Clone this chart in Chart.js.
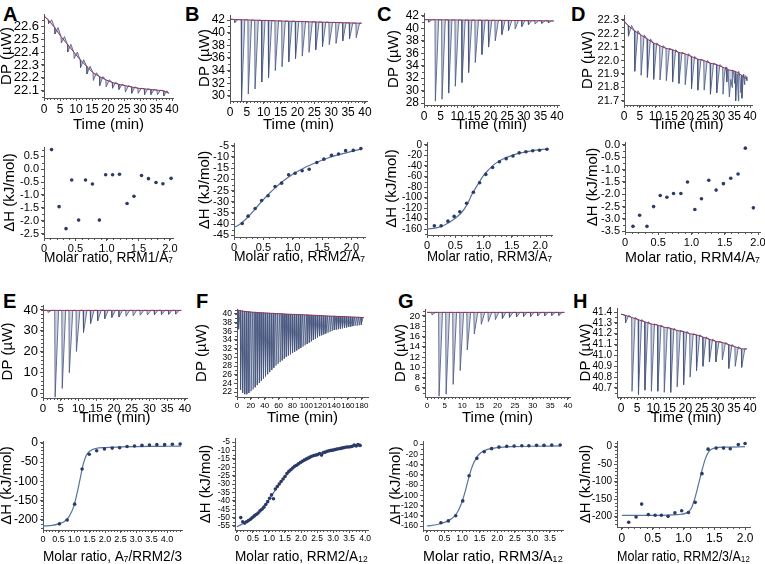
<!DOCTYPE html>
<html>
<head>
<meta charset="utf-8">
<script src="https://cdn.jsdelivr.net/npm/chart.js@4.4.0/dist/chart.umd.min.js"></script>
<style>
  body { margin: 0; width: 765px; height: 564px; position: relative; overflow: hidden; background: #fff;
         font-family: 'Liberation Sans', Arial, sans-serif; }
  canvas { position: absolute; }
  .tag { position: absolute; font-weight: bold; font-size: 20px; line-height: 20px; color: #000; }
</style>
</head>
<body>
<div class="tag" style="left:3px;top:4px">A</div>
<div class="tag" style="left:185px;top:4px">B</div>
<div class="tag" style="left:377px;top:4px">C</div>
<div class="tag" style="left:571px;top:4px">D</div>
<div class="tag" style="left:3px;top:291px">E</div>
<div class="tag" style="left:196px;top:291px">F</div>
<div class="tag" style="left:398px;top:291px">G</div>
<div class="tag" style="left:573px;top:291px">H</div>
<script>
// INJECTION TIMES (min) ---------------------------------------------------------
const injTime = [1.3, 3.3, 5.3, 7.3, 9.3, 11.3, 13.3, 15.3, 17.3, 19.3, 21.3, 23.3, 25.3, 27.3, 29.3, 31.3, 33.3, 35.3, 37.3];
const injTimeF = [2, 5, 8, 11, 14, 17, 20, 23, 26, 29, 32, 35, 38, 41, 44, 47, 50, 53, 56, 59,
                  62, 65, 68, 71, 74, 77, 80, 83, 86, 89, 92, 95, 98, 101, 104, 107, 110, 113, 116, 119,
                  122, 125, 128, 131, 134, 137, 140, 143, 146, 149, 152, 155, 158, 161, 164, 167, 170, 173, 176, 179];
const runEnd = 39;
const runEndF = 183;

// A  RRM1/A7
const aBase = [22.65, 22.59, 22.52, 22.46, 22.40, 22.34, 22.29, 22.24, 22.21, 22.185, 22.165, 22.15, 22.14, 22.13, 22.12, 22.115, 22.11, 22.105, 22.10];
const aPeak = [22.62, 22.54, 22.47, 22.40, 22.35, 22.28, 22.23, 22.18, 22.14, 22.13, 22.12, 22.11, 22.09, 22.08, 22.08, 22.07, 22.07, 22.07, 22.06];
const aEnds = [22.68, 22.08];
const aRatio = [0.12, 0.24, 0.35, 0.44, 0.55, 0.66, 0.77, 0.88, 0.98, 1.09, 1.2, 1.32, 1.43, 1.55, 1.66, 1.78, 1.89, 2.02];
const aHeat = [0.75, -1.45, -2.3, -0.42, -1.97, -0.42, -0.58, -1.97, -0.22, -0.22, -0.2, -1.33, -1.05, -0.25, -0.37, -0.52, -0.57, -0.36];

// B  RRM2/A7
const bBase = [42.08, 42.05, 42.02, 41.98, 41.95, 41.92, 41.88, 41.85, 41.82, 41.79, 41.76, 41.73, 41.70, 41.67, 41.64, 41.61, 41.58, 41.55, 41.52];
const bPeak = [41.6, 29.2, 30.3, 31.1, 32.2, 32.9, 34.0, 34.6, 35.4, 35.9, 36.3, 36.9, 37.3, 37.8, 38.1, 38.3, 38.7, 39.0, 39.2];
const bEnds = [42.15, 41.5];
const bRatio = [0.14, 0.24, 0.36, 0.47, 0.58, 0.70, 0.81, 0.93, 1.04, 1.16, 1.28, 1.41, 1.53, 1.66, 1.78, 1.90, 2.03, 2.16];
const bHeat = [-39.7, -36.4, -33.0, -29.4, -27.3, -23.2, -21.7, -18.0, -17.3, -16.2, -15.5, -12.5, -11.0, -9.3, -8.7, -7.2, -7.1, -6.3];
const bFitX = [0, 0.1, 0.2, 0.3, 0.4, 0.5, 0.6, 0.7, 0.8, 0.9, 1.0, 1.2, 1.4, 1.6, 1.8, 2.0, 2.16];
const bFitY = [-41.5, -40.0, -37.8, -35.0, -32.0, -29.0, -26.3, -23.8, -21.5, -19.5, -17.7, -14.8, -12.5, -10.5, -8.9, -7.5, -6.5];

// C  RRM3/A7
const cBase = [41.40, 41.39, 41.38, 41.37, 41.36, 41.35, 41.34, 41.33, 41.32, 41.31, 41.30, 41.29, 41.28, 41.27, 41.26, 41.25, 41.24, 41.23, 41.22];
const cPeak = [41.0, 28.3, 28.6, 29.6, 30.7, 31.3, 32.9, 34.5, 35.8, 37.0, 38.0, 39.0, 39.6, 39.9, 40.3, 40.6, 40.7, 40.8, 40.9];
const cEnds = [41.42, 41.2];
const cRatio = [0.13, 0.25, 0.37, 0.48, 0.58, 0.70, 0.82, 0.93, 1.04, 1.16, 1.28, 1.40, 1.52, 1.63, 1.75, 1.87, 1.99, 2.12];
const cHeat = [-154, -154, -145, -136, -127, -111, -90, -72, -56, -43, -32, -26, -21, -15, -13, -11, -10, -8];
const cFitX = [0, 0.2, 0.4, 0.6, 0.7, 0.8, 0.9, 1.0, 1.1, 1.2, 1.3, 1.4, 1.6, 1.8, 2.0, 2.15];
const cFitY = [-160, -157, -147, -130, -115, -93, -75, -58, -46, -36, -29, -24, -16.5, -12, -9, -7.5];

// D  RRM4/A7
const dBase = [22.26, 22.22, 22.19, 22.16, 22.13, 22.11, 22.09, 22.08, 22.06, 22.05, 22.03, 22.01, 22.00, 21.98, 21.97, 21.95, 21.93, 21.92, 21.89];
const dPeak = [22.18, 21.92, 21.89, 21.875, 21.86, 21.855, 21.85, 21.84, 21.83, 21.82, 21.79, 21.78, 21.78, 21.75, 21.76, 21.75, 21.73, 21.70, 21.72];
const dEnds = [22.29, 21.86];
const dNoiseT = [31.8, 32.2, 32.6, 33.0, 33.9, 34.3, 34.7, 35.1, 35.9, 36.3, 36.7, 37.1, 37.9, 38.3, 38.7, 39.0];
const dNoiseV = [21.88, 21.95, 21.84, 21.93, 21.86, 21.80, 21.92, 21.83, 21.90, 21.70, 21.88, 21.76, 21.90, 21.82, 21.88, 21.85];
const dRatio = [0.12, 0.22, 0.33, 0.43, 0.53, 0.63, 0.73, 0.84, 0.94, 1.05, 1.15, 1.26, 1.37, 1.48, 1.59, 1.70, 1.81, 1.93];
const dHeat = [-3.3, -2.85, -3.3, -2.5, -2.05, -2.12, -1.97, -1.97, -1.5, -2.62, -2.18, -1.43, -1.83, -1.57, -1.35, -1.18, -0.13, -2.55];

// E  A7/RRM2/3
const eBase = 39.8;
const ePeak = [38.8, -2.0, 2.2, 9.8, 20.0, 29.2, 33.5, 34.8, 35.8, 36.4, 36.6, 37.0, 37.2, 37.5, 37.6, 37.7, 37.8, 37.9, 38.0];
const eEnds = [39.8, 39.8];
const eRatio = [0.53, 0.78, 1.02, 1.26, 1.49, 1.73, 1.98, 2.23, 2.47, 2.71, 2.95, 3.19, 3.43, 3.67, 3.92, 4.17, 4.42];
const eHeat = [-210, -200, -159, -68, -30, -21, -16, -14, -13, -10, -8.5, -7, -6, -5, -5, -4, -3.4];
const eFitX = [0, 0.3, 0.5, 0.7, 0.85, 1.0, 1.1, 1.2, 1.3, 1.4, 1.5, 1.7, 2.0, 2.5, 3.0, 3.5, 4.0, 4.45];
const eFitY = [-216, -214, -210, -203, -190, -163, -130, -92, -55, -32, -22, -15, -12.5, -11, -10, -9.5, -9.2, -9];

// F  RRM2/A12
const fBase = [40.85, 40.75, 40.65, 40.6, 40.55, 40.5, 40.45, 40.4, 40.4, 40.35, 40.3, 40.3, 40.25, 40.25, 40.2,
               40.2, 40.15, 40.15, 40.1, 40.1, 40.05, 40.05, 40.0, 40.0, 39.95, 39.95, 39.9, 39.9, 39.9, 39.85,
               39.85, 39.8, 39.8, 39.8, 39.75, 39.75, 39.7, 39.7, 39.65, 39.65, 39.6, 39.6, 39.55, 39.55, 39.5,
               39.5, 39.5, 39.45, 39.45, 39.4, 39.4, 39.4, 39.35, 39.35, 39.3, 39.3, 39.3, 39.25, 39.25, 39.2];
const fPeak = [36.5, 22.5, 21.8, 21.5, 21.5, 21.8, 22.2, 22.6, 23.1, 23.6, 24.1, 24.6, 25.1, 25.6, 26.1,
               26.6, 27.1, 27.6, 28.1, 28.5, 28.9, 29.3, 29.7, 30.1, 30.4, 30.7, 31.0, 31.3, 31.6, 31.9,
               32.2, 32.5, 32.8, 33.1, 33.4, 33.7, 34.0, 34.3, 34.6, 34.9, 35.1, 35.3, 35.5, 35.7, 35.9,
               36.1, 36.3, 36.4, 36.5, 36.6, 36.7, 36.8, 36.9, 37.0, 37.1, 37.2, 37.3, 37.3, 37.4, 37.5];
const fEnds = [41.0, 39.2];
const fRatio = [0.12, 0.18, 0.24, 0.30, 0.36, 0.42, 0.48, 0.54, 0.60, 0.66, 0.72, 0.78, 0.84, 0.90, 0.96, 1.02,
                1.08, 1.14, 1.20, 1.26, 1.32, 1.38, 1.44, 1.50, 1.56, 1.62, 1.68, 1.74, 1.80, 1.86, 1.92, 1.98,
                2.04, 2.10, 2.16, 2.22, 2.28, 2.34, 2.40, 2.46, 2.52, 2.58, 2.64, 2.70, 2.76, 2.82, 2.88, 2.94,
                3.00, 3.06, 3.12, 3.18, 3.24, 3.30, 3.36, 3.42, 3.48, 3.54, 3.60, 3.66, 3.72, 3.78, 3.84];
const fHeat = [-50, -52.5, -53.3, -52.5, -51.8, -51, -50, -49, -48.2, -47.3, -46, -45, -43.8, -42.2, -40.5, -38.5,
               -36.5, -38.8, -33, -31.5, -30, -28.5, -27, -25.5, -23.8, -22.5, -21.5, -20.5, -19.5, -18.8, -18, -17.2,
               -16.5, -15.8, -15.2, -14.6, -14, -13.5, -13, -12.8, -12.5, -11.8, -12.8, -11.3, -11, -10.5, -10.2, -10,
               -9.8, -9.5, -9.2, -9, -8.8, -8.5, -8.3, -8, -8, -7.8, -7.5, -6.8, -7.3, -6.5, -7];
const fFitX = [0, 0.2, 0.4, 0.6, 0.8, 1.0, 1.2, 1.4, 1.6, 1.8, 2.0, 2.2, 2.4, 2.6, 2.8, 3.0, 3.3, 3.6, 3.9];
const fFitY = [-55.5, -53.5, -51.5, -48.8, -44.8, -39.5, -33.5, -28, -23.3, -19.8, -17, -14.8, -13, -11.7, -10.6, -9.7, -8.7, -7.8, -7.1];

// G  RRM3/A12
const gBase = 20.7;
const gPeak = [20.2, 4.4, 4.8, 6.7, 9.4, 13.4, 16.5, 18.4, 18.9, 19.3, 19.5, 19.7, 19.8, 19.9, 19.9, 20.0, 20.0, 20.1, 20.1];
const gEnds = [20.7, 20.7];
const gRatio = [0.4, 0.61, 0.82, 1.02, 1.2, 1.42, 1.63, 1.84, 2.05, 2.27, 2.48, 2.7, 2.9, 3.12, 3.33, 3.55, 3.79];
const gHeat = [-153.6, -150, -140, -111, -62, -28, -15, -9, -6, -4.5, -4, -3.3, -3.3, -2.6, -2.6, -2, -2];
const gFitX = [0, 0.3, 0.5, 0.7, 0.85, 1.0, 1.1, 1.2, 1.3, 1.4, 1.5, 1.7, 2.0, 2.5, 3.0, 3.8];
const gFitY = [-160, -157, -153, -146, -135, -113, -90, -63, -42, -28, -19, -11, -7, -5, -4.3, -3.8];

// H  RRM2/3/A12
const hBase = [41.37, 41.35, 41.33, 41.31, 41.29, 41.28, 41.26, 41.25, 41.23, 41.22, 41.20, 41.19, 41.17, 41.15, 41.13, 41.12, 41.10, 41.08, 41.06];
const hPeak = [41.30, 40.67, 40.64, 40.68, 40.67, 40.67, 40.66, 40.66, 40.71, 40.73, 40.80, 40.86, 40.90, 40.94, 40.94, 40.96, 40.88, 40.90, 40.89];
const hEnds = [41.38, 41.06];
const hRatio = [0.11, 0.23, 0.32, 0.43, 0.54, 0.64, 0.75, 0.86, 0.97, 1.08, 1.19, 1.3, 1.4, 1.53, 1.65, 1.76, 1.89, 2.0];
const hHeat = [-216, -201, -164, -194, -196, -196, -199, -189, -183, -188, -159, -77, -7, -4, -4, -6, 6, 9];
const hFitX = [0, 0.5, 0.9, 1.05, 1.12, 1.18, 1.24, 1.3, 1.36, 1.42, 1.5, 1.7, 2.0];
const hFitY = [-196, -196, -194, -189, -178, -150, -110, -68, -32, -12, -4, -1, 0];

// STYLE ----------------------------------------------------------------------------
Chart.defaults.font.family = "'Liberation Sans', Arial, 'DejaVu Sans', sans-serif";
Chart.defaults.color = '#000';
const AXIS = '#555';
const BASE_COLOR = '#8e3560';
const TRACE_COLOR = '#46557e';
const TRACE_FILL = 'rgba(125,140,180,0.38)';
const DOT_COLOR = '#2b3a66';
const FIT_COLOR = '#56749e';

const f1 = v => v.toFixed(1);
const f1z = v => (Math.abs(v) < 1e-9 ? '0' : v.toFixed(1));

function xy(xs, ys) {
    return xs.map((x, i) => ({ x: x, y: ys[i] }));
}

// thermogram: baseline + spikes from injection lists
function thermo(times, base, peak, ends, endTime, w, noise) {
    const baseAt = i => (Array.isArray(base) ? base[i] : base);
    const line = [{ x: 0, y: ends[0] }];
    const tr = [{ x: 0, y: ends[0] }];
    times.forEach((t, i) => {
        line.push({ x: t, y: baseAt(i) });
        tr.push({ x: t, y: baseAt(i) }, { x: t + w[0], y: peak[i] }, { x: t + w[1], y: baseAt(i) });
    });
    line.push({ x: endTime, y: ends[1] });
    tr.push({ x: endTime, y: ends[1] });
    if (noise) {
        noise.forEach(p => tr.push(p));
        tr.sort((a, b) => a.x - b.x);
    }
    return [
        { data: line, showLine: true, borderColor: BASE_COLOR, borderWidth: 1, pointRadius: 0, fill: false, tension: 0 },
        { data: tr, showLine: true, borderColor: TRACE_COLOR, borderWidth: 0.8, pointRadius: 0, fill: '-1', backgroundColor: TRACE_FILL, tension: 0 }
    ];
}

function isotherm(xs, ys, fx, fy) {
    const sets = [{ data: xy(xs, ys), pointRadius: 1.8, pointBackgroundColor: DOT_COLOR, pointBorderWidth: 0, showLine: false }];
    if (fx) {
        sets.push({ data: xy(fx, fy), showLine: true, borderColor: FIT_COLOR, borderWidth: 1.2, pointRadius: 0, cubicInterpolationMode: 'monotone' });
    }
    return sets;
}

const minorTicks = {
    id: 'minorTicks',
    afterDraw(chart, args, opts) {
        const ctx = chart.ctx;
        ctx.save();
        ctx.strokeStyle = AXIS;
        ctx.lineWidth = 1;
        ['x', 'y'].forEach(k => {
            const step = opts[k];
            if (!step) return;
            const s = chart.scales[k];
            for (let i = Math.ceil(s.min / step - 1e-6); i * step <= s.max + 1e-9; i++) {
                const p = Math.round(s.getPixelForValue(i * step)) + 0.5;
                ctx.beginPath();
                if (k === 'x') { ctx.moveTo(p, s.top); ctx.lineTo(p, s.top + 2); }
                else { ctx.moveTo(s.right, p); ctx.lineTo(s.right - 2, p); }
                ctx.stroke();
            }
        });
        ctx.restore();
    }
};

// box = [left, top, right, bottom] of the plot area in page pixels
function panel(p) {
    const lh = 18;
    const left = Math.round(p.yTitleX - lh / 2);
    const top = p.box[1] - 12;
    const right = p.box[2] + 16;
    const bottom = Math.round(p.xTitleY + lh / 2);
    const cv = document.createElement('canvas');
    cv.width = right - left;
    cv.height = bottom - top;
    cv.style.left = left + 'px';
    cv.style.top = top + 'px';
    document.body.appendChild(cv);

    const xt = { stepSize: p.step[0], includeBounds: false, autoSkip: false, maxRotation: 0, minRotation: 0, padding: 1, font: { size: p.font[0] } };
    if (p.fx) xt.callback = p.fx;
    const yt = { stepSize: p.step[1], includeBounds: false, autoSkip: false, padding: 2, font: { size: p.font[1] } };
    if (p.fy) yt.callback = p.fy;

    new Chart(cv, {
        type: 'scatter',
        data: { datasets: p.datasets },
        options: {
            responsive: false,
            animation: false,
            devicePixelRatio: 1,
            events: [],
            layout: { padding: { top: 12, right: 16, left: 0, bottom: 0 } },
            plugins: {
                legend: { display: false },
                tooltip: { enabled: false },
                minorTicks: { x: p.minor[0], y: p.minor[1] }
            },
            scales: {
                x: {
                    type: 'linear', position: 'bottom', min: p.x[0], max: p.x[1],
                    ticks: xt,
                    grid: { drawOnChartArea: false, tickLength: 3, color: AXIS },
                    border: { color: AXIS },
                    title: { display: true, text: p.xTitle, font: { size: 15 }, padding: 0 },
                    afterFit: s => { s.height = bottom - p.box[3]; s.paddingLeft = 0; s.paddingRight = 0; }
                },
                y: {
                    type: 'linear', position: 'left', min: p.y[0], max: p.y[1],
                    ticks: yt,
                    grid: { drawOnChartArea: false, tickLength: 3, color: AXIS },
                    border: { color: AXIS },
                    title: { display: true, text: p.yTitle, font: { size: 15 }, padding: 0 },
                    afterFit: s => { s.width = p.box[0] - left; s.paddingTop = 0; s.paddingBottom = 0; }
                }
            }
        },
        plugins: [minorTicks]
    });
}

const W40 = [0.12, 1.1];
const WF = [0.3, 2.7];
const DP = 'DP (µW)';
const TIME = 'Time (min)';
const DH = 'ΔH (kJ/mol)';

// TOP ROW ------------------------------------------------------------------------
panel({ box: [44, 14, 173, 98], x: [0, 40.3], y: [22.044, 22.695], step: [5, 0.1], minor: [1, 0.05], font: [12, 13],
        fy: f1, yTitle: DP, xTitle: TIME, yTitleX: 7, xTitleY: 125,
        datasets: thermo(injTime, aBase, aPeak, aEnds, runEnd, W40) });
panel({ box: [44, 147, 173, 238], x: [0, 2.05], y: [-2.66, 0.85], step: [0.5, 0.5], minor: [0.1, 0.25], font: [11, 11],
        fx: f1z, fy: f1, yTitle: DH, xTitle: 'Molar ratio, RRM1/A₇', yTitleX: 10, xTitleY: 258,
        datasets: isotherm(aRatio, aHeat) });

panel({ box: [230, 15, 367, 101], x: [0, 40.6], y: [29.2, 42.8], step: [5, 2], minor: [1, 1], font: [12, 12],
        yTitle: DP, xTitle: TIME, yTitleX: 205, xTitleY: 125,
        datasets: thermo(injTime, bBase, bPeak, bEnds, runEnd, W40) });
panel({ box: [234, 143, 365, 237], x: [0, 2.23], y: [-45.7, -3.8], step: [0.5, 5], minor: [0.1, 2.5], font: [11, 11],
        fx: f1z, yTitle: DH, xTitle: 'Molar ratio, RRM2/A₇', yTitleX: 205, xTitleY: 257,
        datasets: isotherm(bRatio, bHeat, bFitX, bFitY) });

panel({ box: [424, 13, 559, 105], x: [0, 40.6], y: [27.68, 42.48], step: [5, 2], minor: [1, 1], font: [12, 12],
        yTitle: DP, xTitle: TIME, yTitleX: 394, xTitleY: 125,
        datasets: thermo(injTime, cBase, cPeak, cEnds, runEnd, W40) });
panel({ box: [427, 142, 552, 235], x: [0, 2.21], y: [-171.4, 5.7], step: [0.5, 20], minor: [0.1, 10], font: [11, 10],
        fx: f1z, yTitle: DH, xTitle: 'Molar ratio, RRM3/A₇', yTitleX: 392, xTitleY: 257,
        datasets: isotherm(cRatio, cHeat, cFitX, cFitY) });

panel({ box: [624, 15, 752, 105], x: [0, 40.6], y: [21.67, 22.337], step: [5, 0.1], minor: [1, 0.05], font: [12, 11],
        fy: f1, yTitle: DP, xTitle: TIME, yTitleX: 588, xTitleY: 125,
        datasets: thermo(injTime, dBase, dPeak, dEnds, runEnd, W40, xy(dNoiseT, dNoiseV)) });
panel({ box: [625, 142, 760, 232], x: [0, 2.03], y: [-3.53, 0.12], step: [0.5, 0.5], minor: [0.1, 0.25], font: [11, 11],
        fx: f1z, fy: f1, yTitle: DH, xTitle: 'Molar ratio, RRM4/A₇', yTitleX: 593, xTitleY: 258,
        datasets: isotherm(dRatio, dHeat) });

// BOTTOM ROW -----------------------------------------------------------------------
panel({ box: [43, 305, 187, 398], x: [0, 40.6], y: [-2.4, 42.4], step: [5, 10], minor: [1, 2], font: [11.5, 13],
        yTitle: DP, xTitle: TIME, yTitleX: 8, xTitleY: 418,
        datasets: thermo(injTime, eBase, ePeak, eEnds, runEnd, W40) });
panel({ box: [43, 441, 182, 530], x: [0, 4.48], y: [-225.9, 4.4], step: [0.5, 50], minor: [0.1, 10], font: [9, 12],
        yTitle: DH, xTitle: 'Molar ratio, A₇/RRM2/3', yTitleX: 7, xTitleY: 557,
        datasets: isotherm(eRatio, eHeat, eFitX, eFitY) });

panel({ box: [237, 309, 368, 397], x: [0, 189], y: [20.85, 41.15], step: [20, 2], minor: [10, 1], font: [8, 8.5],
        yTitle: DP, xTitle: TIME, yTitleX: 202, xTitleY: 418,
        datasets: thermo(injTimeF, fBase, fPeak, fEnds, runEndF, WF) });
panel({ box: [235, 438, 368, 530], x: [-0.06, 4.09], y: [-57.4, -2.6], step: [0.5, 5], minor: [0.1, 2.5], font: [8.5, 8.5],
        yTitle: DH, xTitle: 'Molar ratio, RRM2/A₁₂', yTitleX: 206, xTitleY: 557,
        datasets: isotherm(fRatio, fHeat, fFitX, fFitY) });

panel({ box: [425, 309, 570, 397], x: [-0.57, 40.6], y: [4.25, 21.36], step: [5, 2], minor: [1, 1], font: [8, 9.5],
        yTitle: DP, xTitle: TIME, yTitleX: 401, xTitleY: 418,
        datasets: thermo(injTime, gBase, gPeak, gEnds, runEnd, W40) });
panel({ box: [423, 441, 563, 530], x: [-0.11, 3.87], y: [-167.8, 5.9], step: [0.5, 20], minor: [0.1, 10], font: [8.5, 8.5],
        yTitle: DH, xTitle: 'Molar ratio, RRM3/A₁₂', yTitleX: 396, xTitleY: 557,
        datasets: isotherm(gRatio, gHeat, gFitX, gFitY) });

panel({ box: [617, 308, 755, 397], x: [-1.24, 41.55], y: [40.617, 41.437], step: [5, 0.1], minor: [1, 0.05], font: [12, 10],
        fy: f1, yTitle: DP, xTitle: TIME, yTitleX: 586, xTitleY: 418,
        datasets: thermo(injTime, hBase, hPeak, hEnds, runEnd, W40) });
panel({ box: [617, 441, 750, 527], x: [-0.08, 2.08], y: [-229.4, 16.3], step: [0.5, 50], minor: [0.1, 10], font: [12, 10],
        fx: f1z, yTitle: DH, xTitle: 'Molar ratio, RRM2/3/A₁₂', yTitleX: 586, xTitleY: 557,
        datasets: isotherm(hRatio, hHeat, hFitX, hFitY) });
</script>
</body>
</html>
